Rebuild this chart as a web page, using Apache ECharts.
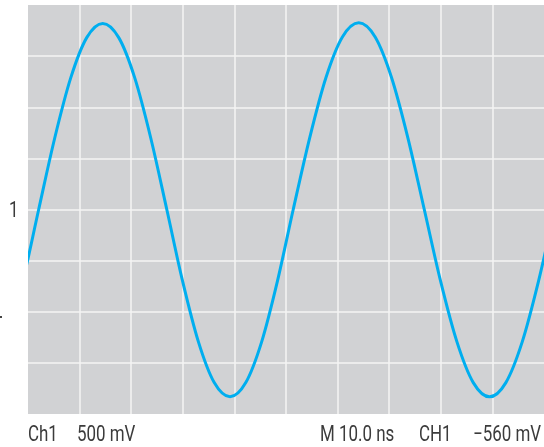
<!DOCTYPE html>
<html>
<head>
<meta charset="utf-8">
<style>
  html, body { margin: 0; padding: 0; background: #ffffff; }
  #chart { width: 544px; height: 447px; }
</style>
<script src="https://cdn.jsdelivr.net/npm/echarts@6/dist/echarts.min.js"></script>
</head>
<body>
<div id="chart"></div>
<script>
// Sample times (ns); the trace runs slightly past both screen edges and is clipped there
const timeNs = [
  -7.12, -4.06, -0.99,
  2.07, 5.17, 8.28, 11.38, 14.49, 17.59, 20.69, 23.80,
  26.90, 29.96, 33.03, 36.09, 39.15, 42.21, 45.28, 48.34,
  51.40, 54.58, 57.75, 60.93, 64.10, 67.28, 70.45, 73.63,
  76.80, 79.96, 83.13, 86.29, 89.45, 92.61, 95.78, 98.94,
  102.10, 105.26
];

// Channel 1 voltage (mV) at those times, relative to the screen centre line
const ch1mV = [
  -1693, -1295, -701,
  0, 697, 1287, 1681, 1820, 1681, 1287, 697,
  0, -701, -1295, -1693, -1832, -1693, -1295, -701,
  0, 699, 1291, 1687, 1826, 1687, 1291, 699,
  0, -701, -1295, -1693, -1832, -1693, -1295, -701,
  0, 701
];

// Screen scale: 500 mV per division (8 tall), 10 ns per division (10 wide)
const voltsMin = -2000, voltsMax = 2000, voltsStep = 500;
const timeMin = 0, timeMax = 100, timeStep = 10;

// Readout texts under the screen
const readoutLeft = ['Ch1', '500 mV'];
const readoutRight = ['M 10.0 ns', 'CH1', '\u2212560 mV'];
const channelMarker = '1';

const chart = echarts.init(document.getElementById('chart'), null, { renderer: 'canvas' });

const textFont = '22px Roboto, "Noto Sans", sans-serif';
const textColor = '#3b3b3b';

// Condensed readout text: a narrow face is drawn by squeezing Roboto horizontally
function label(text, x, y) {
  return {
    type: 'text',
    x: x,
    y: y,
    scaleX: 0.77,
    style: { text: text, font: textFont, fill: textColor, verticalAlign: 'middle', align: 'left' },
    silent: true
  };
}

// Trace drawn as one Catmull-Rom spline through the samples, mapped by the axes
function renderTrace(params, api) {
  if (params.dataIndex !== 0) return null;
  const pts = timeNs.map((t, i) => api.coord([t, ch1mV[i]]));
  const n = pts.length;
  let d = 'M' + pts[0][0] + ' ' + pts[0][1];
  for (let i = 0; i < n - 1; i++) {
    const p0 = pts[Math.max(i - 1, 0)];
    const p1 = pts[i];
    const p2 = pts[i + 1];
    const p3 = pts[Math.min(i + 2, n - 1)];
    const c1x = p1[0] + (p2[0] - p0[0]) / 6, c1y = p1[1] + (p2[1] - p0[1]) / 6;
    const c2x = p2[0] - (p3[0] - p1[0]) / 6, c2y = p2[1] - (p3[1] - p1[1]) / 6;
    d += ' C' + c1x + ' ' + c1y + ' ' + c2x + ' ' + c2y + ' ' + p2[0] + ' ' + p2[1];
  }
  const cs = params.coordSys;
  return {
    type: 'path',
    shape: { pathData: d },
    style: { stroke: '#00aeef', lineWidth: 3, fill: 'none', lineJoin: 'round' },
    clipPath: { type: 'rect', shape: { x: cs.x, y: cs.y, width: cs.width, height: cs.height } }
  };
}

const option = {
  animation: false,
  backgroundColor: '#ffffff',
  grid: {
    left: 28, right: 0, top: 5, height: 409,
    show: true, backgroundColor: '#d1d2d4', borderWidth: 0
  },
  xAxis: {
    type: 'value', min: timeMin, max: timeMax, interval: timeStep,
    axisLine: { show: false }, axisTick: { show: false }, axisLabel: { show: false },
    splitLine: { show: true, showMinLine: false, showMaxLine: false,
      lineStyle: { color: '#f4f4f4', width: 1.5 } }
  },
  yAxis: {
    type: 'value', min: voltsMin, max: voltsMax, interval: voltsStep,
    axisLine: { show: false }, axisTick: { show: false }, axisLabel: { show: false },
    splitLine: { show: true, showMinLine: false, showMaxLine: false,
      lineStyle: { color: '#f4f4f4', width: 1.5 } }
  },
  series: [{
    type: 'custom',
    renderItem: renderTrace,
    data: timeNs.map((t, i) => [t, ch1mV[i]]),
    clip: true,
    silent: true
  }],
  graphic: [
    label(channelMarker, 9, 211),
    { type: 'rect', shape: { x: 0, y: 316, width: 2, height: 2 }, style: { fill: '#444' }, silent: true },
    label(readoutLeft[0], 28, 435),
    label(readoutLeft[1], 77, 435),
    label(readoutRight[0], 320, 435),
    label(readoutRight[1], 419, 435),
    label(readoutRight[2], 473, 435)
  ]
};

chart.setOption(option);
</script>
</body>
</html>
